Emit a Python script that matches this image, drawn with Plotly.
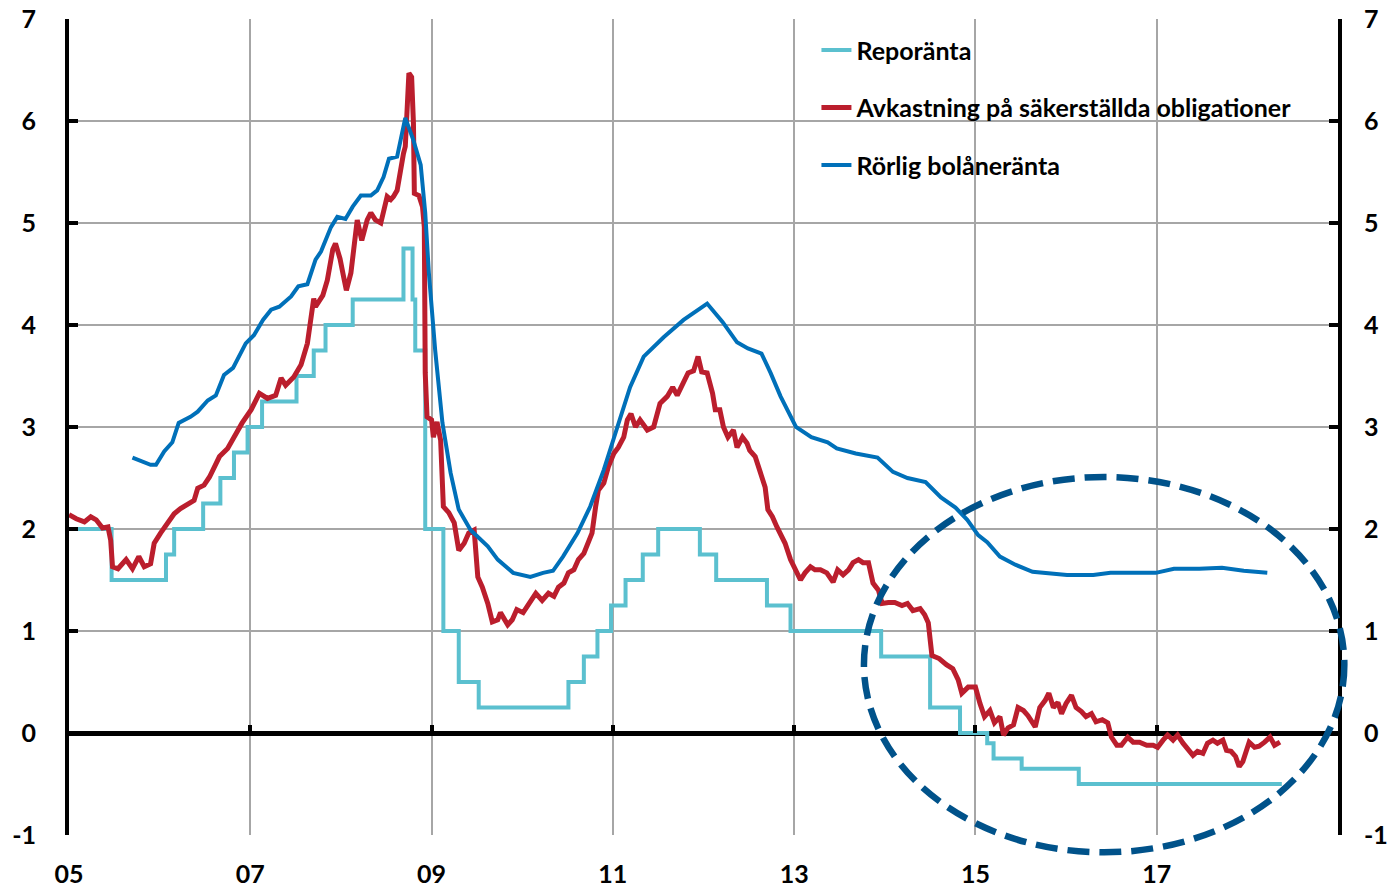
import plotly.graph_objects as go

# ---------------- data ----------------
repo_x = [2005.00, 2005.47, 2006.07, 2006.16, 2006.48, 2006.67, 2006.82, 2006.97, 2007.13,
          2007.51, 2007.70, 2007.83, 2008.13, 2008.69, 2008.79, 2008.82, 2008.93, 2009.13,
          2009.30, 2009.52, 2010.51, 2010.68, 2010.83, 2010.98, 2011.14, 2011.33, 2011.50,
          2011.96, 2012.14, 2012.70, 2012.96, 2013.96, 2014.50, 2014.83, 2015.13, 2015.20,
          2015.51, 2016.14, 2018.38]
repo_y = [2.00, 1.50, 1.75, 2.00, 2.25, 2.50, 2.75, 3.00, 3.25,
          3.50, 3.75, 4.00, 4.25, 4.75, 4.25, 3.75, 2.00, 1.00,
          0.50, 0.25, 0.50, 0.75, 1.00, 1.25, 1.50, 1.75, 2.00,
          1.75, 1.50, 1.25, 1.00, 0.75, 0.25, 0.00, -0.10, -0.25,
          -0.35, -0.50, -0.50]

bond_x = [2005.00, 2005.08, 2005.17, 2005.24, 2005.30, 2005.37, 2005.43, 2005.46, 2005.48, 2005.54,
          2005.63, 2005.70, 2005.77, 2005.83, 2005.90, 2005.94, 2006.01, 2006.09, 2006.16, 2006.23,
          2006.31, 2006.38, 2006.42, 2006.49, 2006.55, 2006.60, 2006.66, 2006.75, 2006.82, 2006.91,
          2007.01, 2007.10, 2007.19, 2007.28, 2007.34, 2007.39, 2007.48, 2007.56, 2007.63, 2007.68,
          2007.70, 2007.72, 2007.80, 2007.85, 2007.91, 2007.94, 2007.99, 2008.03, 2008.06, 2008.11,
          2008.14, 2008.18, 2008.23, 2008.29, 2008.33, 2008.38, 2008.44, 2008.47, 2008.51, 2008.55,
          2008.58, 2008.62, 2008.66, 2008.69, 2008.71, 2008.73, 2008.75, 2008.78, 2008.80, 2008.81,
          2008.86, 2008.90, 2008.92, 2008.93, 2008.95, 2009.00, 2009.02, 2009.06, 2009.10, 2009.13,
          2009.19, 2009.25, 2009.30, 2009.36, 2009.41, 2009.47, 2009.51, 2009.56, 2009.62, 2009.67,
          2009.73, 2009.76, 2009.84, 2009.89, 2009.94, 2010.01, 2010.09, 2010.15, 2010.22, 2010.29,
          2010.35, 2010.40, 2010.46, 2010.51, 2010.57, 2010.62, 2010.68, 2010.73, 2010.77, 2010.81,
          2010.84, 2010.90, 2010.95, 2011.01, 2011.06, 2011.12, 2011.16, 2011.20, 2011.25, 2011.30,
          2011.38, 2011.45, 2011.52, 2011.60, 2011.66, 2011.71, 2011.78, 2011.83, 2011.89, 2011.94,
          2011.98, 2012.04, 2012.10, 2012.13, 2012.18, 2012.22, 2012.27, 2012.33, 2012.37, 2012.43,
          2012.48, 2012.51, 2012.57, 2012.63, 2012.68, 2012.71, 2012.76, 2012.81, 2012.87, 2012.90,
          2012.96, 2013.01, 2013.07, 2013.12, 2013.18, 2013.23, 2013.29, 2013.36, 2013.43, 2013.48,
          2013.54, 2013.60, 2013.65, 2013.71, 2013.76, 2013.82, 2013.87, 2013.93, 2013.97, 2014.04,
          2014.11, 2014.19, 2014.25, 2014.31, 2014.39, 2014.44, 2014.48, 2014.52, 2014.60, 2014.68,
          2014.75, 2014.81, 2014.85, 2014.92, 2015.00, 2015.05, 2015.10, 2015.16, 2015.21, 2015.27,
          2015.31, 2015.36, 2015.42, 2015.47, 2015.53, 2015.58, 2015.66, 2015.71, 2015.77, 2015.81,
          2015.86, 2015.91, 2015.95, 2016.00, 2016.06, 2016.11, 2016.17, 2016.22, 2016.28, 2016.33,
          2016.40, 2016.46, 2016.50, 2016.56, 2016.61, 2016.68, 2016.74, 2016.81, 2016.89, 2016.96,
          2017.01, 2017.07, 2017.12, 2017.18, 2017.23, 2017.29, 2017.34, 2017.40, 2017.45, 2017.51,
          2017.56, 2017.62, 2017.67, 2017.73, 2017.77, 2017.82, 2017.87, 2017.91, 2017.95, 2017.99,
          2018.02, 2018.08, 2018.13, 2018.19, 2018.25, 2018.30, 2018.36]
bond_y = [2.14, 2.10, 2.07, 2.12, 2.09, 2.01, 2.02, 1.89, 1.63, 1.61,
          1.70, 1.61, 1.73, 1.63, 1.66, 1.86, 1.96, 2.06, 2.15, 2.20,
          2.24, 2.28, 2.40, 2.43, 2.51, 2.60, 2.71, 2.79, 2.90, 3.04,
          3.17, 3.33, 3.28, 3.31, 3.48, 3.41, 3.49, 3.61, 3.82, 4.11,
          4.26, 4.18, 4.29, 4.44, 4.74, 4.80, 4.65, 4.47, 4.34, 4.51,
          4.70, 5.03, 4.83, 5.03, 5.10, 5.03, 5.00, 5.10, 5.26, 5.23,
          5.26, 5.32, 5.55, 5.68, 5.75, 6.07, 6.47, 6.43, 5.98, 5.29,
          5.27, 5.16, 4.96, 3.53, 3.10, 3.07, 2.90, 3.05, 2.87, 2.22,
          2.16, 2.06, 1.79, 1.86, 1.96, 1.99, 1.53, 1.43, 1.27, 1.09,
          1.11, 1.18, 1.06, 1.11, 1.21, 1.18, 1.30, 1.37, 1.30, 1.37,
          1.34, 1.43, 1.47, 1.57, 1.60, 1.70, 1.76, 1.86, 1.96, 2.22,
          2.38, 2.45, 2.61, 2.74, 2.80, 2.90, 3.07, 3.13, 3.00, 3.07,
          2.97, 3.00, 3.23, 3.30, 3.39, 3.31, 3.43, 3.53, 3.55, 3.69,
          3.54, 3.53, 3.33, 3.17, 3.17, 3.00, 2.90, 2.97, 2.80, 2.90,
          2.84, 2.77, 2.71, 2.55, 2.41, 2.19, 2.12, 2.02, 1.92, 1.86,
          1.70, 1.60, 1.50, 1.57, 1.63, 1.60, 1.60, 1.57, 1.48, 1.60,
          1.55, 1.60, 1.67, 1.70, 1.67, 1.67, 1.47, 1.40, 1.27, 1.28,
          1.28, 1.25, 1.27, 1.20, 1.22, 1.16, 1.08, 0.76, 0.73, 0.67,
          0.63, 0.52, 0.39, 0.45, 0.45, 0.29, 0.16, 0.22, 0.10, 0.16,
          -0.02, 0.05, 0.08, 0.25, 0.22, 0.17, 0.06, 0.25, 0.32, 0.39,
          0.25, 0.30, 0.19, 0.29, 0.37, 0.25, 0.21, 0.16, 0.19, 0.11,
          0.13, 0.10, -0.04, -0.12, -0.12, -0.04, -0.09, -0.09, -0.12, -0.12,
          -0.14, -0.07, -0.02, -0.07, -0.02, -0.10, -0.15, -0.22, -0.18, -0.20,
          -0.10, -0.07, -0.10, -0.07, -0.17, -0.18, -0.23, -0.33, -0.28, -0.17,
          -0.09, -0.14, -0.13, -0.09, -0.04, -0.12, -0.09]

mort_x = [2005.70, 2005.90, 2005.96, 2006.05, 2006.14, 2006.21, 2006.34, 2006.42, 2006.53, 2006.62,
          2006.71, 2006.81, 2006.95, 2007.04, 2007.14, 2007.23, 2007.32, 2007.45, 2007.53, 2007.63,
          2007.72, 2007.78, 2007.89, 2007.96, 2008.05, 2008.13, 2008.22, 2008.33, 2008.40, 2008.47,
          2008.53, 2008.62, 2008.71, 2008.80, 2008.88, 2008.93, 2008.97, 2009.04, 2009.12, 2009.21,
          2009.30, 2009.43, 2009.62, 2009.73, 2009.90, 2010.09, 2010.23, 2010.34, 2010.45, 2010.61,
          2010.75, 2010.90, 2011.05, 2011.19, 2011.34, 2011.56, 2011.78, 2012.04, 2012.21, 2012.37,
          2012.49, 2012.64, 2012.74, 2012.85, 2013.02, 2013.19, 2013.37, 2013.47, 2013.68, 2013.92,
          2014.09, 2014.25, 2014.45, 2014.62, 2014.78, 2014.91, 2015.03, 2015.13, 2015.27, 2015.44,
          2015.63, 2016.01, 2016.30, 2016.49, 2016.99, 2017.19, 2017.47, 2017.72, 2017.96, 2018.22]
mort_y = [2.70, 2.63, 2.63, 2.76, 2.85, 3.04, 3.10, 3.15, 3.26, 3.31,
          3.51, 3.58, 3.82, 3.90, 4.05, 4.15, 4.18, 4.28, 4.38, 4.40,
          4.64, 4.72, 4.96, 5.06, 5.04, 5.16, 5.27, 5.27, 5.32, 5.45,
          5.63, 5.65, 6.03, 5.81, 5.57, 5.10, 4.51, 3.75, 3.04, 2.55,
          2.19, 1.99, 1.83, 1.70, 1.57, 1.53, 1.57, 1.59, 1.73, 1.96,
          2.22, 2.58, 3.00, 3.39, 3.69, 3.88, 4.05, 4.21, 4.03, 3.83,
          3.77, 3.72, 3.53, 3.30, 3.00, 2.90, 2.85, 2.79, 2.74, 2.70,
          2.56, 2.50, 2.46, 2.31, 2.21, 2.09, 1.94, 1.87, 1.73, 1.65,
          1.58, 1.55, 1.55, 1.57, 1.57, 1.61, 1.61, 1.62, 1.59, 1.57]

series_names = ["Reporänta", "Avkastning på säkerställda obligationer", "Rörlig bolåneränta"]
series_colors = ["#5BC0CF", "#BB1E2D", "#0070B9"]

x_tick_vals = [2005, 2007, 2009, 2011, 2013, 2015, 2017]
x_tick_text = ["05", "07", "09", "11", "13", "15", "17"]
zero_tick_vals = [2007, 2009, 2011, 2013, 2015, 2017]
y_tick_vals = [-1, 0, 1, 2, 3, 4, 5, 6, 7]
y_tick_text = ["-1", "0", "1", "2", "3", "4", "5", "6", "7"]
X_RANGE = [2005, 2019]
Y_RANGE = [-1, 7]

# highlighted region (data units): centre and radii
ell_cx, ell_cy, ell_rx, ell_ry = 2016.42, 0.67, 2.65, 1.84

FONT = "Lato, 'Open Sans', sans-serif"
GRID = "#A6A6A6"

fig = go.Figure()
fig.add_trace(go.Scatter(x=repo_x, y=repo_y, mode="lines", line_shape="hv",
                         name=series_names[0], legendgroup="a",
                         line=dict(color=series_colors[0], width=4)))
fig.add_trace(go.Scatter(x=bond_x, y=bond_y, mode="lines",
                         name=series_names[1], legendgroup="b",
                         line=dict(color=series_colors[1], width=5)))
fig.add_trace(go.Scatter(x=mort_x, y=mort_y, mode="lines",
                         name=series_names[2], legendgroup="c",
                         line=dict(color=series_colors[2], width=4)))
# helper (empty) trace so the secondary axes are drawn
fig.add_trace(go.Scatter(x=[None], y=[None], xaxis="x2", yaxis="y2",
                         showlegend=False, hoverinfo="skip"))

def px_x(v):
    return (v - X_RANGE[0]) / (X_RANGE[1] - X_RANGE[0])

def px_y(v):
    return (v - Y_RANGE[0]) / (Y_RANGE[1] - Y_RANGE[0])

fig.add_shape(type="circle", xref="paper", yref="paper",
              x0=px_x(ell_cx - ell_rx), x1=px_x(ell_cx + ell_rx),
              y0=px_y(ell_cy - ell_ry), y1=px_y(ell_cy + ell_ry),
              line=dict(color="#00528A", width=6.5, dash="22px,10px"),
              fillcolor="rgba(0,0,0,0)", layer="above")

tickfont = dict(family=FONT, size=25, color="black", weight="bold")

fig.update_layout(
    width=1391, height=889,
    margin=dict(l=69, r=53, t=19, b=54, autoexpand=False),
    paper_bgcolor="white", plot_bgcolor="white",
    font=dict(family=FONT, color="black"),
    showlegend=True,
    legend=dict(x=0.589, y=0.99, xanchor="left", yanchor="top",
                bgcolor="rgba(0,0,0,0)", borderwidth=0,
                font=dict(family=FONT, size=25, color="black", weight="bold"),
                tracegroupgap=22, itemwidth=30),
    xaxis=dict(range=X_RANGE, tickvals=x_tick_vals, ticktext=x_tick_text,
               showgrid=True, gridcolor=GRID, gridwidth=1.5, zeroline=False,
               showline=False, ticks="", tickfont=tickfont, ticklabelstandoff=22,
               automargin=False),
    yaxis=dict(range=Y_RANGE, tickvals=y_tick_vals, ticktext=y_tick_text,
               showgrid=True, gridcolor=GRID,
               gridwidth=1.5, zeroline=True, zerolinecolor="black", zerolinewidth=4.5,
               showline=True, linecolor="black", linewidth=4,
               ticks="inside", ticklen=9, tickwidth=4, tickcolor="black",
               tickfont=tickfont, ticklabelstandoff=24, automargin=False),
    yaxis2=dict(range=Y_RANGE, tickvals=y_tick_vals, ticktext=y_tick_text,
                overlaying="y", side="right",
                anchor="x", showgrid=False, zeroline=False,
                showline=True, linecolor="black", linewidth=4,
                ticks="inside", ticklen=9, tickwidth=4, tickcolor="black",
                tickfont=tickfont, ticklabelstandoff=17, automargin=False),
    xaxis2=dict(range=X_RANGE, tickvals=zero_tick_vals, overlaying="x", anchor="free",
                position=px_y(0), side="bottom", showgrid=False, zeroline=False,
                showline=False, ticks="inside", ticklen=8, tickwidth=4,
                tickcolor="black", showticklabels=False, automargin=False),
)

fig.write_html("out.html", config={"displayModeBar": False},
               post_script="document.body.style.margin='0';document.body.style.overflow='hidden';")
